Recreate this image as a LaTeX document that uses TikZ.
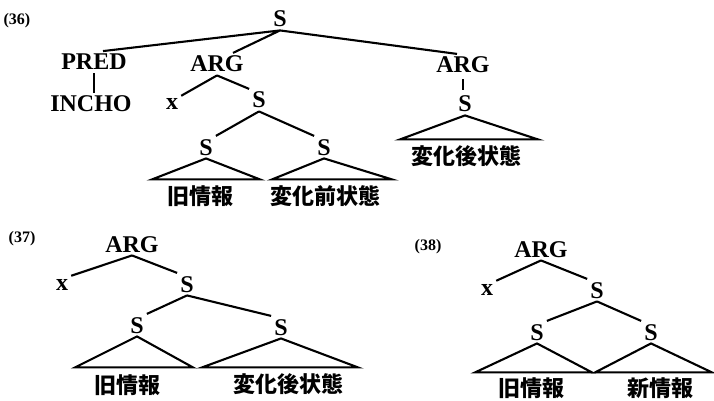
\documentclass[tikz,border=0pt]{standalone}
\usepackage{fontspec}
\setmainfont{Liberation Serif}
\newfontfamily\cjk{Noto Sans CJK JP}
\usepackage{tikz}

\begin{document}
\begin{tikzpicture}[x=1pt, y=-1pt,
  cat/.style={font=\fontsize{24}{24}\selectfont\bfseries, inner sep=3pt, anchor=base},
  word/.style={font=\fontsize{22}{22}\selectfont\cjk\bfseries, inner sep=0pt},
  num/.style={font=\fontsize{16}{16}\selectfont\bfseries, inner sep=0pt},
  edge/.style={line width=2.1pt},
  ]
  \useasboundingbox (0,0) rectangle (714,401);

  % (36)
  \node[num] (n36) at (17,21) {(36)};
  \node[cat] (s36) at (280,27) {S};
  \node[cat] (pred) at (94,70) {PRED};
  \node[cat] (incho) at (91,112) {INCHO};
  \node[cat] (arga) at (217,72) {ARG};
  \node[cat] (argb) at (463,73) {ARG};
  \node[cat] (xa) at (172,110) {x};
  \node[cat] (sa) at (259,108) {S};
  \node[cat] (sal) at (206,155) {S};
  \node[cat] (sar) at (324,155) {S};
  \node[cat] (sb) at (465,112) {S};
  \node[word] (old36) at (200,196) {旧情報};
  \node[word] (pre36) at (325,196) {変化前状態};
  \node[word] (post36) at (466,156) {変化後状態};
  \draw[edge]
    (s36.south) -- ([xshift=9pt]pred.north)
    (s36.south) -- ([xshift=16pt]arga.north)
    (s36.south) -- ([xshift=-6pt]argb.north)
  ;
  \draw[edge, shorten <=3pt, shorten >=3pt]
    (pred.south) -- (pred.south |- incho.north)
    (argb.south) -- (argb.south |- sb.north)
  ;
  \draw[edge]
    (arga.south) -- (xa.north east)
    (arga.south) -- (sa.north west)
    (sa.south) -- (sal.north east)
    (sa.south) -- (sar.north west)
  ;
  \draw[edge] (sal.south) -- ++(-54,21) -- ++(108,0) -- cycle;
  \draw[edge] (sar.south) -- ++(-52,21) -- ++(120,0) -- cycle;
  \draw[edge] (sb.south) -- ++(-65,24) -- ++(138,0) -- cycle;

  % (37)
  \node[num] (n37) at (22,239) {(37)};
  \node[cat] (argc) at (132,252) {ARG};
  \node[cat] (xc) at (62,290) {x};
  \node[cat] (sc) at (187,292) {S};
  \node[cat] (scl) at (137,333) {S};
  \node[cat] (scr) at (281,335) {S};
  \node[word] (old37) at (127,385) {旧情報};
  \node[word] (post37) at (288,384) {変化後状態};
  \draw[edge]
    (argc.south) -- (xc.north east)
    (argc.south) -- (sc.north west)
    (sc.south) -- (scl.north east)
    (sc.south) -- (scr.north west)
  ;
  \draw[edge] (scl.south) -- ++(-62,31) -- ++(118,0) -- cycle;
  \draw[edge] (scr.south) -- ++(-79,29) -- ++(156,0) -- cycle;

  % (38)
  \node[num] (n38) at (428,247) {(38)};
  \node[cat] (argd) at (541,257) {ARG};
  \node[cat] (xd) at (487,295) {x};
  \node[cat] (sd) at (597,298) {S};
  \node[cat] (sdl) at (537,340) {S};
  \node[cat] (sdr) at (651,340) {S};
  \node[word] (old38) at (531,388) {旧情報};
  \node[word] (new38) at (660,388) {新情報};
  \draw[edge]
    (argd.south) -- (xd.north east)
    (argd.south) -- (sd.north west)
    (sd.south) -- (sdl.north east)
    (sd.south) -- (sdr.north west)
  ;
  \draw[edge] (sdl.south) -- ++(-62,29) -- ++(117,0) -- cycle;
  \draw[edge] (sdr.south) -- ++(-56,29) -- ++(117,0) -- cycle;
\end{tikzpicture}
\end{document}
